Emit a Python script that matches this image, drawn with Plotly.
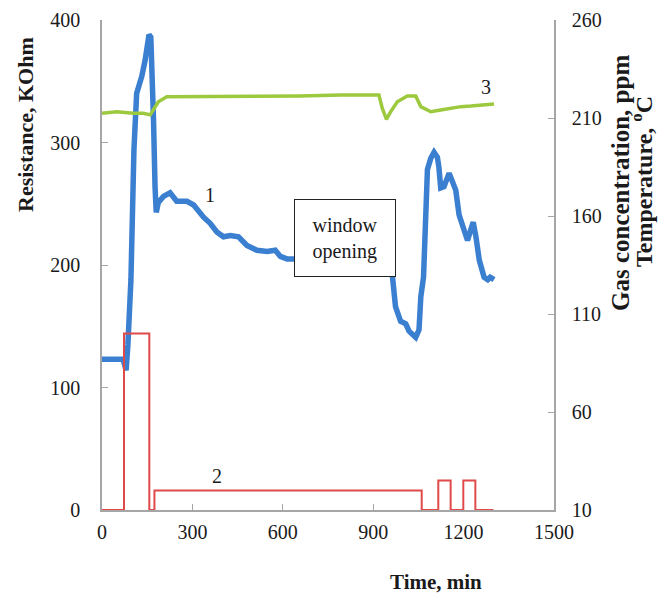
import plotly.graph_objects as go

# Curve 1: resistance, KOhm (left axis); None splits the two recorded segments
res_time = [0, 70, 80, 86, 96, 106, 115, 132, 143, 149, 156, 162, 165, 171, 176, 180,
            187, 204, 226, 248, 282, 304, 337, 359, 381, 403, 426, 453, 481, 514, 548,
            575, 592, 614, 642, 658,
            None,
            958, 963, 974, 991, 1008, 1019, 1041, 1052, 1058, 1067, 1072, 1080, 1091,
            1102, 1113, 1118, 1124, 1135, 1152, 1163, 1174, 1185, 1202, 1213, 1224,
            1232, 1241, 1252, 1268, 1280, 1288, 1301]
res_kohm = [123, 123, 114, 135, 188, 294, 340, 354, 367, 381, 388, 386, 367, 318, 264, 243,
            251, 256, 259, 252, 252, 249, 239, 234, 227, 223, 224, 223, 216, 212, 211,
            212, 207, 205, 205, 207,
            None,
            205, 188, 166, 154, 152, 146, 141, 147, 174, 190, 229, 278, 287,
            292, 288, 280, 263, 264, 275, 267, 261, 241, 226, 220, 229,
            235, 223, 204, 190, 188, 190, 188]

# Curve 2: gas concentration, ppm (right axis), step profile
gas_time = [0, 73, 157, 174, 1061, 1116, 1157, 1199, 1239, 1299]
gas_ppm = [10, 100, 10, 20, 10, 25, 10, 25, 10, 10]

# Curve 3: temperature, C (right axis)
temp_time = [0, 49, 104, 137, 160, 171, 187, 215, 326, 548, 658, 792, 919, 930, 944,
             958, 980, 1013, 1041, 1058, 1091, 1124, 1157, 1191, 1224, 1257, 1301]
temp_c = [212.4, 213.2, 212.4, 212.4, 211.6, 214.1, 218.3, 220.9, 220.9, 220.9, 221.2,
          221.7, 221.7, 215.0, 209.3, 213.2, 218.3, 221.2, 221.2, 215.8, 213.2, 214.1,
          215.0, 215.8, 216.1, 216.6, 217.1]

x_ticks = [0, 300, 600, 900, 1200, 1500]
left_ticks = [0, 100, 200, 300, 400]
right_ticks = [10, 60, 110, 160, 210, 260]

FONT = "Liberation Serif, Times New Roman, serif"
AXC = "#a6a6a6"

fig = go.Figure()
fig.add_trace(go.Scatter(x=gas_time, y=gas_ppm, yaxis="y2", mode="lines",
                         line=dict(color="#e04a4a", width=2, shape="hv"),
                         connectgaps=False, hoverinfo="skip"))
fig.add_trace(go.Scatter(x=temp_time, y=temp_c, yaxis="y2", mode="lines",
                         line=dict(color="#9cc93e", width=3.5)))
fig.add_trace(go.Scatter(x=res_time, y=res_kohm, mode="lines",
                         line=dict(color="#3b7fd0", width=5.5), connectgaps=False))

fig.update_layout(
    width=664, height=601,
    margin=dict(l=102, r=110, t=20, b=91, autoexpand=False),
    plot_bgcolor="white", paper_bgcolor="white",
    showlegend=False,
    font=dict(family=FONT, size=20, color="#1a1a1a"),
    xaxis=dict(range=[0, 1500], tickvals=x_ticks, ticks="inside", ticklen=6,
               tickcolor=AXC, showline=True, linecolor=AXC, linewidth=1.5,
               showgrid=False, zeroline=False, ticklabelstandoff=3, automargin=False,
               layer="below traces"),
    yaxis=dict(range=[0, 400], tickvals=left_ticks, ticks="inside", ticklen=6,
               tickcolor=AXC, showline=True, linecolor=AXC, linewidth=1.5,
               showgrid=False, zeroline=False, ticklabelstandoff=16, automargin=False,
               layer="below traces"),
    yaxis2=dict(range=[10, 260], tickvals=right_ticks, ticks="inside", ticklen=6,
                tickcolor=AXC, showline=True, linecolor=AXC, linewidth=1.5,
                showgrid=False, zeroline=False, overlaying="y", side="right",
                ticklabelstandoff=12, automargin=False, layer="below traces"),
)

ann = []
ann.append(dict(x=359, y=257, xref="x", yref="y", text="1", showarrow=False,
                font=dict(size=20)))
ann.append(dict(x=383, y=28, xref="x", yref="y", text="2", showarrow=False,
                font=dict(size=20)))
ann.append(dict(x=1274, y=345, xref="x", yref="y", text="3", showarrow=False,
                font=dict(size=20)))
ann.append(dict(x=806, y=222, xref="x", yref="y", text="window<br>opening",
                showarrow=False, font=dict(size=20), bordercolor="#222",
                borderwidth=1, borderpad=4, width=92, height=68, bgcolor="white"))
# axis titles (pixel target -> paper: x=(px-102)/452, y=(510-py)/490)
ann.append(dict(x=(25 - 102) / 452, y=(510 - 125) / 490, xref="paper", yref="paper",
                xanchor="center", yanchor="middle", text="<b>Resistance, KOhm</b>",
                textangle=-90, showarrow=False, font=dict(size=22)))
ann.append(dict(x=(620 - 102) / 452, y=(510 - 183) / 490, xref="paper", yref="paper",
                xanchor="center", yanchor="middle",
                text="<b>Gas concentration, ppm</b>", textangle=-90, showarrow=False,
                font=dict(size=25)))
ann.append(dict(x=(642 - 102) / 452, y=(510 - 182) / 490, xref="paper", yref="paper",
                xanchor="center", yanchor="middle",
                text="<b>Temperature, <sup>o</sup>C</b>", textangle=-90, showarrow=False,
                font=dict(size=24)))
ann.append(dict(x=(436 - 102) / 452, y=(510 - 582) / 490, xref="paper", yref="paper",
                xanchor="center", yanchor="middle", text="<b>Time, min</b>",
                showarrow=False, font=dict(size=21)))
fig.update_layout(annotations=ann)

fig.write_html("out.html", config={"displayModeBar": False},
               post_script="document.body.style.margin='0px';")
